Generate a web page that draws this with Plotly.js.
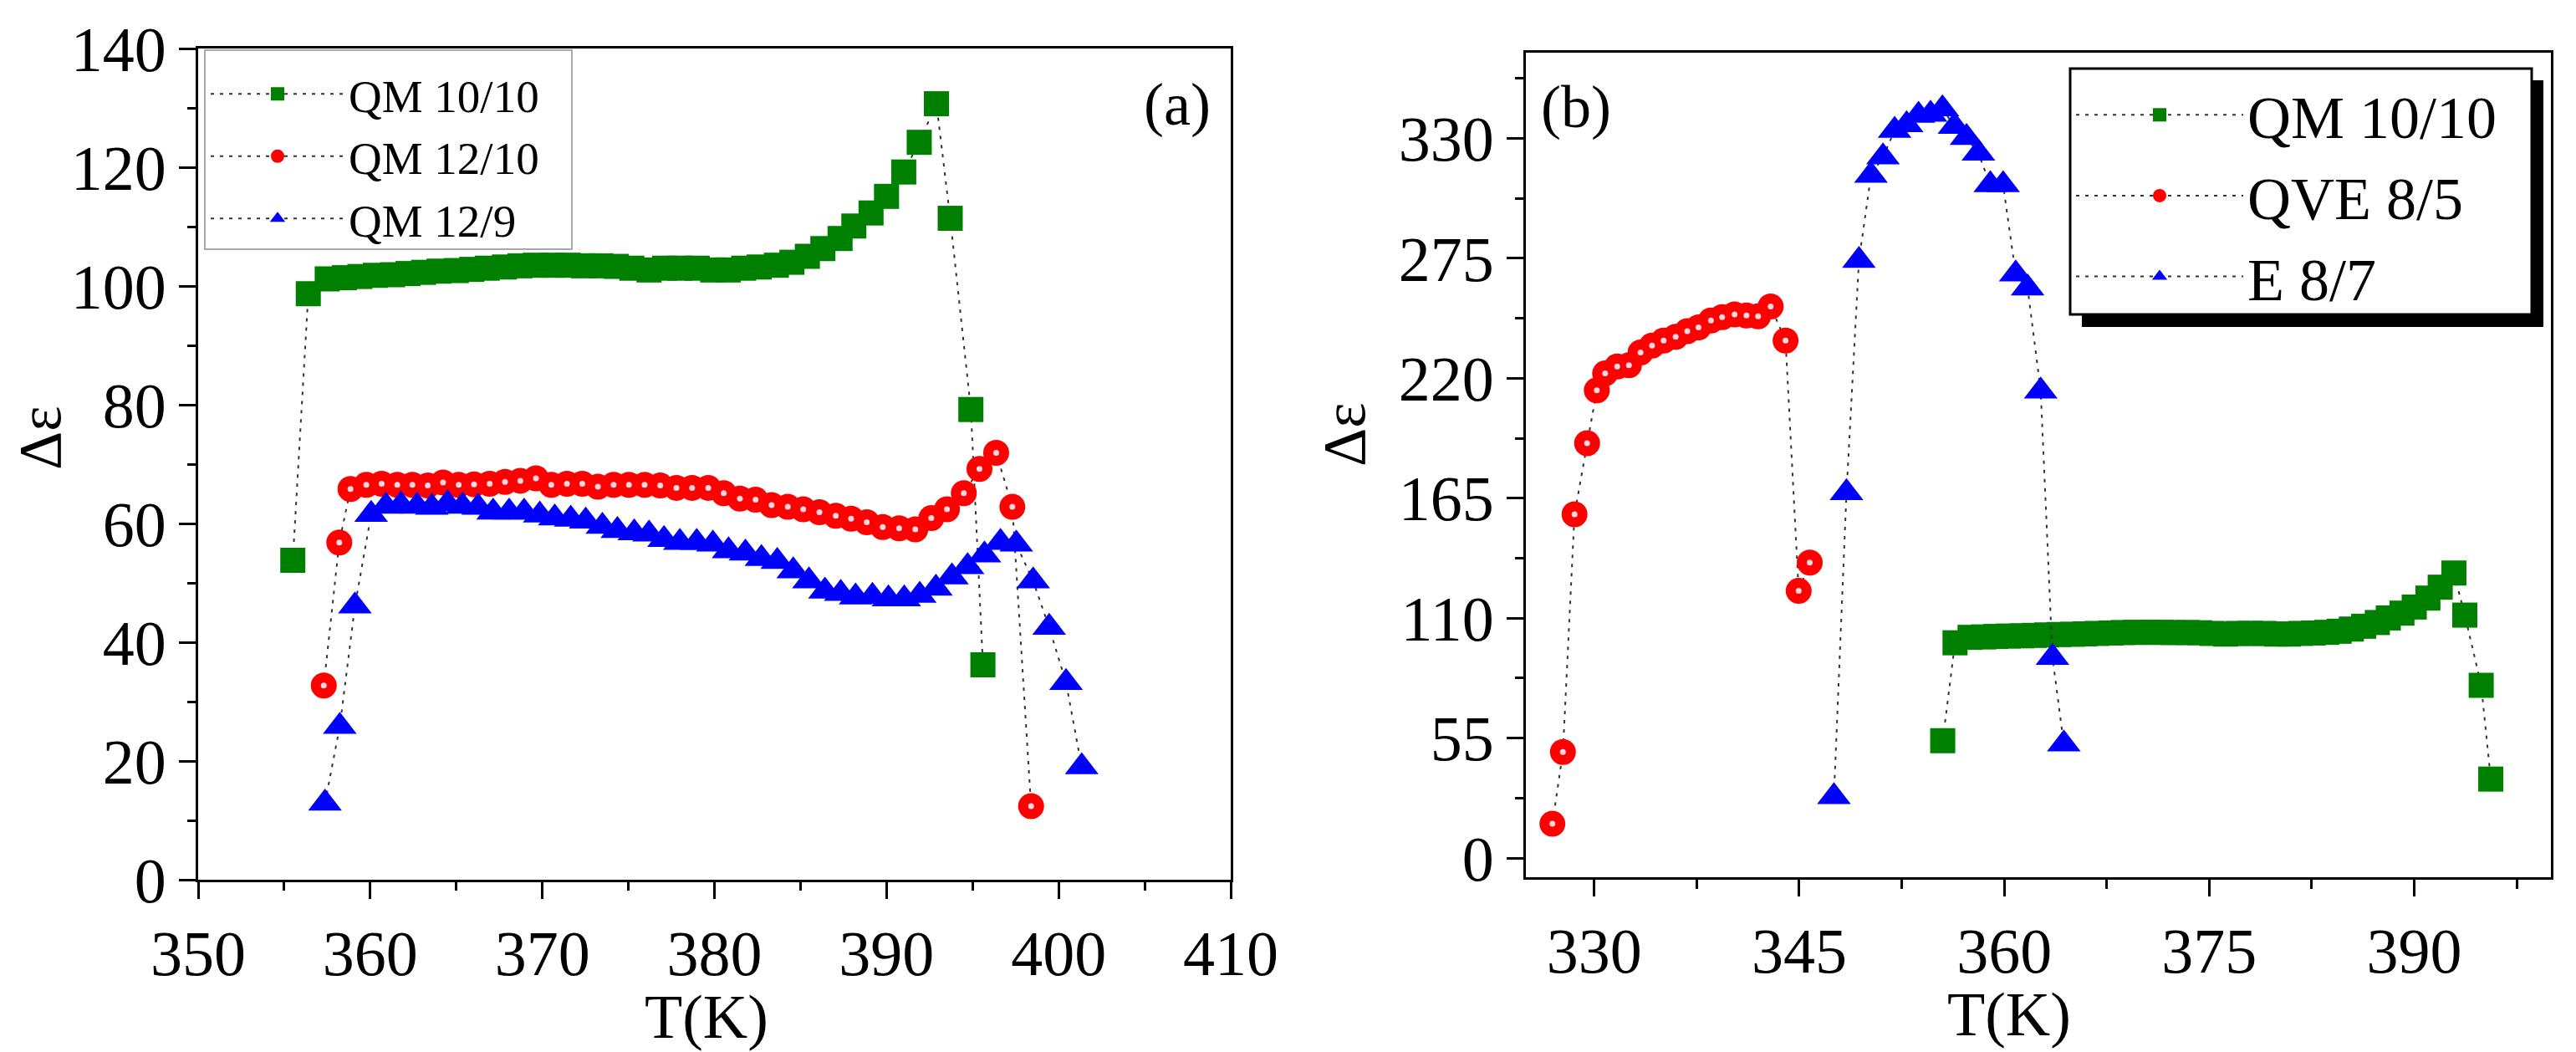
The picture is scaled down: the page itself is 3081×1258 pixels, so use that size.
<!DOCTYPE html>
<html>
<head>
<meta charset="utf-8">
<script src="https://cdn.plot.ly/plotly-3.0.1.min.js"></script>
<style>
  html, body { margin: 0; padding: 0; background: #ffffff; }
  #chart { width: 3081px; height: 1258px; }
</style>
</head>
<body>
<div id="chart"></div>
<script>
// ---------- Panel (a) and (b): QM 10/10 (same measurement in both panels) ----------
const qm1010_T = [355.5, 356.4, 357.5, 358.5, 359.4, 360.3, 361.3, 362.2, 363.1, 364.0, 365.0, 365.9, 366.8, 367.8, 368.7, 369.6, 370.6, 371.5, 372.4, 373.4, 374.3, 375.2, 376.2, 377.1, 378.0, 379.0, 379.9, 380.8, 381.7, 382.6, 383.6, 384.5, 385.4, 386.3, 387.3, 388.1, 389.1, 390.0, 391.0, 391.9, 392.9, 393.7, 394.9, 395.6];
const qm1010_D = [53.8, 98.7, 101.2, 101.4, 101.6, 101.8, 101.9, 102.1, 102.3, 102.5, 102.6, 102.8, 103.0, 103.2, 103.4, 103.5, 103.5, 103.5, 103.4, 103.4, 103.3, 103.0, 102.7, 103.0, 103.0, 103.0, 102.7, 102.7, 103.0, 103.2, 103.5, 104.0, 105.0, 106.3, 108.0, 110.1, 112.3, 115.1, 119.2, 124.2, 130.7, 111.4, 79.2, 36.2];

// ---------- Panel (a): QM 12/10 ----------
const qm1210_T = [357.3, 358.2, 358.85, 359.77, 360.66, 361.57, 362.45, 363.34, 364.23, 365.14, 366.03, 366.94, 367.83, 368.72, 369.63, 370.52, 371.43, 372.32, 373.23, 374.14, 375.03, 375.94, 376.85, 377.79, 378.7, 379.64, 380.54, 381.48, 382.39, 383.32, 384.26, 385.16, 386.1, 387.05, 387.94, 388.85, 389.78, 390.73, 391.67, 392.6, 393.51, 394.49, 395.4, 396.37, 397.31, 398.4];
const qm1210_D = [32.7, 56.8, 65.8, 66.5, 66.7, 66.5, 66.5, 66.4, 66.9, 66.5, 66.6, 66.7, 67.0, 67.2, 67.6, 66.5, 66.7, 66.7, 66.2, 66.5, 66.5, 66.5, 66.4, 66.0, 66.0, 66.0, 65.1, 64.2, 64.0, 63.1, 62.8, 62.4, 61.9, 61.3, 60.8, 60.2, 59.4, 59.2, 59.0, 60.9, 62.4, 65.1, 69.2, 71.9, 62.8, 12.4];

// ---------- Panel (a): QM 12/9 ----------
const qm129_T = [357.37, 358.23, 359.11, 360.05, 360.91, 361.78, 362.72, 363.58, 364.49, 365.36, 366.27, 367.14, 368.07, 368.94, 369.85, 370.72, 371.65, 372.52, 373.49, 374.36, 375.34, 376.2, 377.07, 377.99, 378.97, 379.91, 380.82, 381.8, 382.73, 383.65, 384.58, 385.49, 386.42, 387.34, 388.2, 389.18, 390.11, 391.03, 391.93, 392.87, 393.8, 394.71, 395.69, 396.62, 397.54, 398.52, 399.45, 400.43, 401.34];
const qm129_D = [12.9, 25.8, 46.1, 61.5, 62.9, 63.1, 62.9, 62.7, 63.3, 62.9, 62.7, 61.9, 61.9, 61.9, 61.4, 60.9, 60.7, 60.4, 59.5, 58.8, 58.4, 58.2, 57.3, 56.8, 56.8, 56.5, 55.4, 55.0, 54.1, 53.6, 52.0, 50.3, 48.6, 48.2, 47.6, 47.7, 47.3, 47.3, 47.9, 49.1, 51.0, 52.7, 54.7, 56.8, 56.5, 50.3, 42.5, 33.2, 19.0];

// ---------- Panel (b): QVE 8/5 ----------
const qve85_T = [326.94, 327.71, 328.56, 329.48, 330.19, 330.8, 331.68, 332.54, 333.39, 334.23, 335.08, 335.96, 336.81, 337.63, 338.54, 339.36, 340.27, 341.14, 341.99, 342.91, 344.0, 344.96, 345.77];
const qve85_D = [15.7, 48.6, 157.6, 190.2, 214.5, 222.2, 225.4, 226.0, 231.8, 235.0, 237.3, 239.0, 241.6, 243.3, 246.5, 248.0, 249.3, 248.8, 248.4, 252.9, 237.3, 122.5, 135.5];

// ---------- Panel (b): E 8/7 ----------
const e87_T = [347.54, 348.46, 349.37, 350.25, 351.13, 351.98, 352.86, 353.73, 354.61, 355.48, 356.36, 357.24, 358.11, 358.98, 359.92, 360.84, 361.71, 362.67, 363.53, 364.36];
const e87_D = [28.1, 167.5, 274.0, 313.0, 321.5, 333.6, 336.2, 340.5, 341.0, 343.5, 335.5, 330.4, 323.2, 308.7, 308.7, 267.8, 261.4, 214.1, 92.0, 52.3];

// ---------- Labels ----------
const legendA = ["QM 10/10", "QM 12/10", "QM 12/9"];
const legendB = ["QM 10/10", "QVE 8/5", "E 8/7"];
const xTitle = "T(K)";
const yTitle = "Δε";
const panelLabels = ["(a)", "(b)"];

// ---------- Styling ----------
const FONT = "'Liberation Serif', 'Times New Roman', serif";
const W = 3081, H = 1258;
const GREEN = "#008000", RED = "#ff0000", BLUE = "#0000ff";
const conn = { color: "#333333", width: 2, dash: "4px,7px" };

function px(x) { return x / W; }
function py(y) { return 1 - y / H; }

function series(T, D, name, color, symbol, size, xa, ya, leg) {
  return {
    type: "scatter", mode: "lines+markers", x: T, y: D, name: name,
    xaxis: xa, yaxis: ya, legend: leg,
    line: conn,
    marker: { color: color, symbol: symbol, size: size, line: { width: 0 } },
    hoverinfo: "skip"
  };
}
function shine(T, D, xa, ya) {
  return {
    type: "scatter", mode: "markers", x: T, y: D, xaxis: xa, yaxis: ya,
    showlegend: false, hoverinfo: "skip",
    marker: { color: "#ffd6e0", size: 7, symbol: "circle", line: { width: 0 } }
  };
}

const data = [
  series(qm1010_T, qm1010_D, legendA[0], GREEN, "square", 30, "x", "y", "legend"),
  series(qm1210_T, qm1210_D, legendA[1], RED, "circle", 31, "x", "y", "legend"),
  shine(qm1210_T, qm1210_D, "x", "y"),
  series(qm129_T, qm129_D, legendA[2], BLUE, "triangle-up", 35, "x", "y", "legend"),
  series(qm1010_T, qm1010_D, legendB[0], GREEN, "square", 30, "x2", "y2", "legend2"),
  series(qve85_T, qve85_D, legendB[1], RED, "circle", 31, "x2", "y2", "legend2"),
  shine(qve85_T, qve85_D, "x2", "y2"),
  series(e87_T, e87_D, legendB[2], BLUE, "triangle-up", 35, "x2", "y2", "legend2")
];

const tickFont = { family: FONT, size: 76, color: "#000" };
function axis(extra) {
  return Object.assign({
    showline: true, mirror: true, linecolor: "#000", linewidth: 3,
    showgrid: false, zeroline: false,
    ticks: "outside", ticklen: 20, tickwidth: 3, tickcolor: "#000",
    tickfont: tickFont, fixedrange: true
  }, extra);
}

const layout = {
  width: W, height: H,
  margin: { l: 0, r: 0, t: 0, b: 0 },
  paper_bgcolor: "#ffffff", plot_bgcolor: "#ffffff",
  font: { family: FONT, color: "#000" },
  xaxis: axis({ domain: [px(237), px(1472)], range: [350, 410], tick0: 350, dtick: 10,
    minor: { dtick: 5, ticklen: 10, tickwidth: 3, tickcolor: "#000", ticks: "outside" },
    anchor: "y" }),
  yaxis: axis({ domain: [py(1052), py(58)], range: [0, 140], tick0: 0, dtick: 20,
    minor: { dtick: 10, ticklen: 10, tickwidth: 3, tickcolor: "#000", ticks: "outside" },
    anchor: "x" }),
  xaxis2: axis({ domain: [px(1825), px(3051)], range: [325, 400], tick0: 330, dtick: 15,
    minor: { dtick: 7.5, ticklen: 11, tickwidth: 3, tickcolor: "#000", ticks: "outside" },
    anchor: "y2" }),
  yaxis2: axis({ domain: [py(1049), py(63)], range: [-8.8, 369.3], tick0: 0, dtick: 55,
    minor: { dtick: 27.5, ticklen: 10, tickwidth: 3, tickcolor: "#000", ticks: "outside" },
    anchor: "x2" }),
  legend: {
    x: px(247), y: py(70), xanchor: "left", yanchor: "top",
    bgcolor: "rgba(0,0,0,0)", borderwidth: 0,
    font: { family: FONT, size: 55, color: "#000" },
    itemwidth: 160, tracegroupgap: 0
  },
  legend2: {
    x: px(2478), y: py(84), xanchor: "left", yanchor: "top",
    bgcolor: "rgba(0,0,0,0)", borderwidth: 0,
    font: { family: FONT, size: 72, color: "#000" },
    itemwidth: 200, tracegroupgap: 0
  },
  shapes: [
    { type: "rect", xref: "paper", yref: "paper", layer: "above",
      x0: px(245), x1: px(684), y0: py(298), y1: py(60),
      line: { color: "#a8a8a8", width: 2 }, fillcolor: "#ffffff" },
    { type: "rect", xref: "paper", yref: "paper", layer: "above",
      x0: px(2490), x1: px(3042), y0: py(391), y1: py(96),
      line: { width: 0 }, fillcolor: "#000000" },
    { type: "rect", xref: "paper", yref: "paper", layer: "above",
      x0: px(2476), x1: px(3028), y0: py(376), y1: py(82),
      line: { color: "#000", width: 3 }, fillcolor: "#ffffff" }
  ],
  annotations: [
    { text: panelLabels[0], xref: "paper", yref: "paper", x: px(1408), y: py(125),
      xanchor: "center", yanchor: "middle", showarrow: false, font: { family: FONT, size: 72, color: "#000" } },
    { text: panelLabels[1], xref: "paper", yref: "paper", x: px(1885), y: py(128),
      xanchor: "center", yanchor: "middle", showarrow: false, font: { family: FONT, size: 72, color: "#000" } },
    { text: xTitle, xref: "paper", yref: "paper", x: px(845), y: py(1216),
      xanchor: "center", yanchor: "middle", showarrow: false, font: { family: FONT, size: 74, color: "#000" } },
    { text: xTitle, xref: "paper", yref: "paper", x: px(2403), y: py(1213),
      xanchor: "center", yanchor: "middle", showarrow: false, font: { family: FONT, size: 74, color: "#000" } },
    { text: yTitle, xref: "paper", yref: "paper", x: px(48), y: py(524), textangle: -90,
      xanchor: "center", yanchor: "middle", showarrow: false, font: { family: FONT, size: 72, color: "#000" } },
    { text: yTitle, xref: "paper", yref: "paper", x: px(1608), y: py(519), textangle: -90,
      xanchor: "center", yanchor: "middle", showarrow: false, font: { family: FONT, size: 72, color: "#000" } }
  ],
  showlegend: true
};

Plotly.newPlot("chart", data, layout, { displayModeBar: false, staticPlot: true });
</script>
</body>
</html>
